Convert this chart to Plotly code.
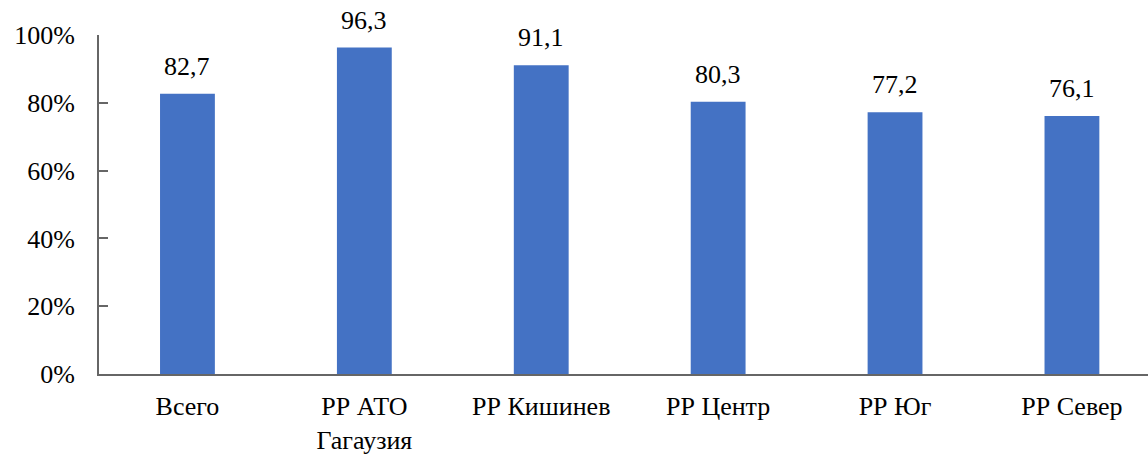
import plotly.graph_objects as go

categories = ["Всего", "РР АТО<br>Гагаузия", "РР Кишинев", "РР Центр", "РР Юг", "РР Север"]
values = [82.7, 96.3, 91.1, 80.3, 77.2, 76.1]
y_ticks = [0, 20, 40, 60, 80, 100]
y_tick_labels = ["0%", "20%", "40%", "60%", "80%", "100%"]

FONT = "'Liberation Serif', 'DejaVu Serif'"
SIZE = 26
fig = go.Figure()
fig.add_trace(go.Bar(x=categories, y=values, marker=dict(color="#4472C4", line=dict(width=0)),
                     width=0.31, hoverinfo="skip"))
for c, v in zip(categories, values):
    fig.add_annotation(x=c, y=v, text=f"{v:.1f}".replace(".", ","), showarrow=False,
                       yanchor="bottom", yshift=11, font=dict(family=FONT, size=SIZE, color="#000"))
fig.update_layout(
    width=1148, height=455, margin=dict(l=99, r=0, t=35, b=79),
    plot_bgcolor="white", paper_bgcolor="white", showlegend=False,
    font=dict(family=FONT, size=SIZE, color="#000"),
    xaxis=dict(type="category", range=[-0.5, 5.43], showline=True, linecolor="#666666", linewidth=2,
               ticks="", showgrid=False, tickfont=dict(family=FONT, size=SIZE, color="#000"),
               ticklabelstandoff=8),
    yaxis=dict(range=[0, 100], tickmode="array", tickvals=y_ticks, ticktext=y_tick_labels,
               showline=True, linecolor="#666666",
               linewidth=2, ticks="inside", ticklen=9, tickcolor="#666666", tickwidth=2,
               showgrid=False, zeroline=False, tickfont=dict(family=FONT, size=SIZE, color="#000"),
               ticklabelstandoff=17),
)
fig.write_html("out.html", config={"displayModeBar": False},
               post_script="document.body.style.margin='0';document.body.style.padding='0';document.body.style.overflow='hidden';")
